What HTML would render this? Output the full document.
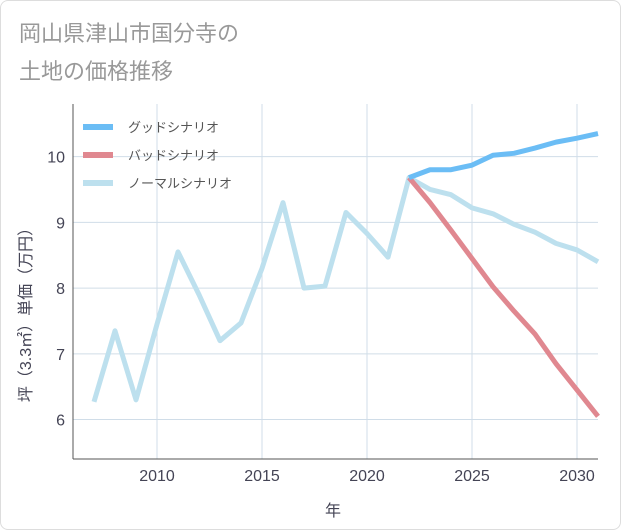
<!DOCTYPE html>
<html><head><meta charset="utf-8">
<style>
body{margin:0;background:#fff;font-family:"Liberation Sans","Noto Sans CJK JP",sans-serif;}
#wrap{position:relative;width:619px;height:528px;border:1px solid #ddd;border-radius:8px;overflow:hidden;}
</style></head>
<body>
<div id="wrap">
<svg id="chart" width="621" height="530"></svg>
</div>
<script>
const years=[2007,2008,2009,2010,2011,2012,2013,2014,2015,2016,2017,2018,2019,2020,2021,2022,2023,2024,2025,2026,2027,2028,2029,2030,2031];
const normal=[6.27,7.35,6.3,7.45,8.55,7.9,7.2,7.47,8.3,9.3,8.0,8.03,9.15,8.83,8.47,9.68,9.5,9.42,9.22,9.13,8.97,8.85,8.68,8.58,8.4];
const futureYears=[2022,2023,2024,2025,2026,2027,2028,2029,2030,2031];
const good=[9.68,9.8,9.8,9.87,10.02,10.05,10.13,10.22,10.28,10.35];
const bad=[9.68,9.3,8.88,8.45,8.02,7.65,7.3,6.85,6.45,6.05];
const xTicks=[2010,2015,2020,2025,2030];
const yTicks=[6,7,8,9,10];
const legendLabels=["グッドシナリオ","バッドシナリオ","ノーマルシナリオ"];
const legendColors=["#6bbdf5","#e08890","#bde0ee"];

const NS="http://www.w3.org/2000/svg";
const svg=document.getElementById('chart');
const L=72,R=597,T=103,B=458,x0=2006,x1=2031,y0=5.4,y1=10.8;
const sx=v=>L+(v-x0)/(x1-x0)*(R-L);
const sy=v=>B-(v-y0)/(y1-y0)*(B-T);
function mk(tag,attrs,parent){const e=document.createElementNS(NS,tag);for(const k in attrs)e.setAttribute(k,attrs[k]);(parent||svg).appendChild(e);return e;}

let t=mk('text',{x:18,y:40,'font-size':22,fill:'#999'});t.textContent='岡山県津山市国分寺の';

t=mk('text',{x:18,y:78,'font-size':22,fill:'#999'});t.textContent='土地の価格推移';


const grid=mk('g',{});

xTicks.forEach(v=>{
  const l=mk('line',{x1:sx(v),x2:sx(v),y1:T,y2:B,stroke:'#d0dde8','stroke-width':1},grid);
  
  const tx=mk('text',{x:sx(v),y:B+22,'font-size':16,fill:'#445','text-anchor':'middle'});
  tx.textContent=v;
});
yTicks.forEach(v=>{
  const l=mk('line',{x1:L,x2:R,y1:sy(v),y2:sy(v),stroke:'#d0dde8','stroke-width':1},grid);
  
  const tx=mk('text',{x:L-8,y:sy(v)+6,'font-size':16,fill:'#445','text-anchor':'end'});
  tx.textContent=v;
});
let ax=mk('line',{x1:L,x2:L,y1:T,y2:B,stroke:'#555','stroke-width':1});

ax=mk('line',{x1:L,x2:R,y1:B,y2:B,stroke:'#555','stroke-width':1});


function series(xs,ys,color,name){
  const p=mk('polyline',{points:xs.map((x,i)=>sx(x)+','+sy(ys[i])).join(' '),fill:'none',stroke:color,'stroke-width':5,'stroke-linejoin':'round'});
  
}
series(years,normal,legendColors[2],'normal-scenario-line');
series(futureYears,bad,legendColors[1],'bad-scenario-line');
series(futureYears,good,legendColors[0],'good-scenario-line');

legendLabels.forEach((lab,i)=>{
  const y=126+i*28;
  const g=mk('g',{});
  
  mk('line',{x1:82,x2:112,y1:y,y2:y,stroke:legendColors[i],'stroke-width':6},g);
  const tx=mk('text',{x:127,y:y+5,'font-size':13,fill:'#555'},g);tx.textContent=lab;
});

t=mk('text',{x:332,y:515,'font-size':16,fill:'#445','text-anchor':'middle'});t.textContent='年';

t=mk('text',{x:0,y:0,'font-size':16,fill:'#445','text-anchor':'middle',transform:'translate(30,310) rotate(-90)'});
t.textContent='坪（3.3㎡）単価（万円）';

</script>
</body></html>
